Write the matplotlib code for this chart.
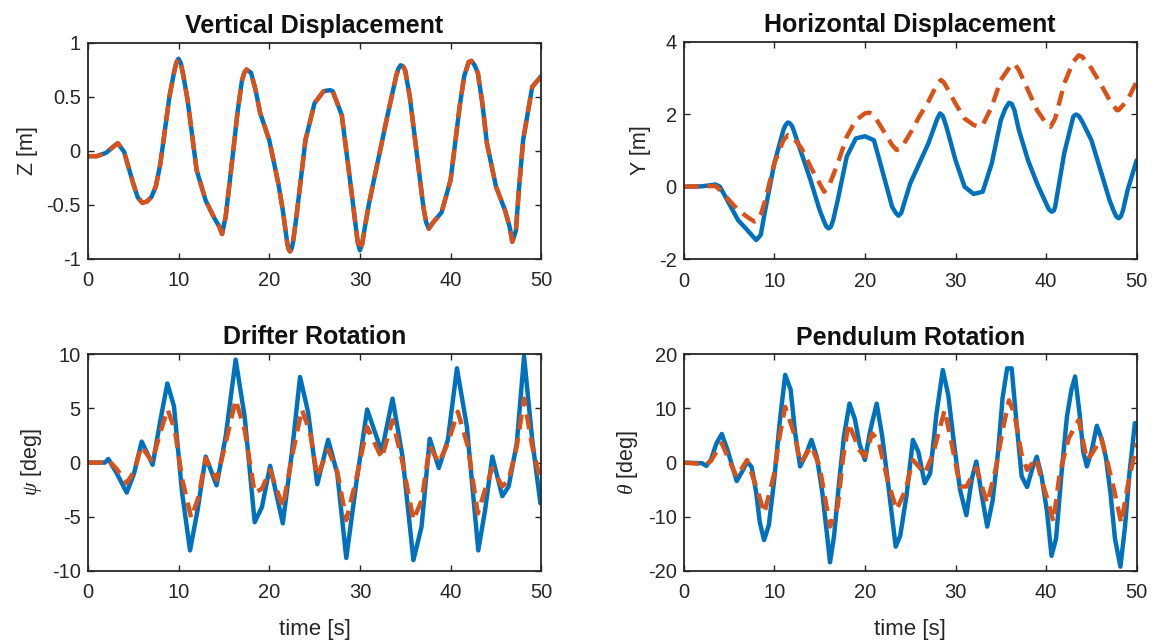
import matplotlib
matplotlib.use("Agg")
import matplotlib.pyplot as plt

plt.rcParams['font.family'] = ['Liberation Sans', 'DejaVu Sans']
plt.rcParams['axes.unicode_minus'] = False
plt.rcParams['mathtext.fontset'] = 'custom'
plt.rcParams['mathtext.it'] = 'Liberation Serif:italic'

# ---------------- data ----------------
t_z = [0, 1, 2, 3, 3.3, 4, 5, 5.5, 6, 6.5, 7, 7.5, 8, 9, 9.5, 9.75, 10, 10.25, 10.5, 11,
       12, 13, 14, 14.5, 14.8, 15.2, 16, 16.5, 17, 17.25, 17.5, 18, 18.5, 19, 20, 21,
       21.5, 22, 22.15, 22.3, 22.45, 22.6, 23, 24, 25, 26, 26.7, 27, 28, 29, 29.5,
       29.75, 30, 30.25, 30.5, 31, 32, 33, 34, 34.25, 34.5, 34.75, 35, 35.5, 36, 37,
       37.3, 37.6, 38, 39, 40, 41, 41.5, 42, 42.3, 42.65, 43, 43.5, 44, 45, 46, 46.5,
       46.8, 47.2, 47.5, 48, 49, 50]
z_meas = [-0.05, -0.05, -0.02, 0.05, 0.07, -0.01, -0.30, -0.43, -0.48, -0.47, -0.43,
          -0.33, -0.12, 0.50, 0.72, 0.81, 0.85, 0.81, 0.71, 0.47, -0.18, -0.46, -0.63,
          -0.70, -0.77, -0.61, -0.03, 0.35, 0.65, 0.72, 0.75, 0.72, 0.56, 0.35, 0.10,
          -0.30, -0.55, -0.86, -0.91, -0.93, -0.91, -0.86, -0.61, 0.10, 0.44, 0.55,
          0.56, 0.55, 0.33, -0.33, -0.67, -0.84, -0.92, -0.86, -0.73, -0.49, -0.09,
          0.31, 0.69, 0.76, 0.79, 0.78, 0.74, 0.50, 0.16, -0.52, -0.66, -0.72, -0.67,
          -0.57, -0.27, 0.41, 0.69, 0.82, 0.83, 0.79, 0.72, 0.44, 0.07, -0.33, -0.55,
          -0.70, -0.84, -0.74, -0.39, 0.10, 0.59, 0.69]
z_model = [-0.05, -0.05, -0.02, 0.05, 0.07, -0.01, -0.30, -0.43, -0.48, -0.47, -0.43,
           -0.33, -0.12, 0.50, 0.72, 0.81, 0.85, 0.81, 0.71, 0.47, -0.18, -0.46, -0.63,
           -0.70, -0.77, -0.61, -0.03, 0.35, 0.65, 0.72, 0.75, 0.72, 0.56, 0.35, 0.10,
           -0.30, -0.55, -0.86, -0.91, -0.93, -0.91, -0.86, -0.61, 0.10, 0.44, 0.55,
           0.56, 0.55, 0.33, -0.33, -0.67, -0.84, -0.92, -0.86, -0.73, -0.49, -0.09,
           0.31, 0.69, 0.76, 0.79, 0.78, 0.74, 0.50, 0.16, -0.52, -0.66, -0.72, -0.67,
           -0.57, -0.27, 0.41, 0.69, 0.82, 0.83, 0.79, 0.72, 0.44, 0.07, -0.33, -0.55,
           -0.70, -0.84, -0.74, -0.39, 0.10, 0.59, 0.69]

t_y_meas = [0, 2, 3.5, 4, 5, 6, 7, 7.5, 8, 8.5, 9, 10, 11, 11.25, 11.5, 11.75, 12, 13, 14,
            15, 15.5, 15.75, 16, 16.25, 16.5, 17, 18, 19, 20, 21, 22, 23, 23.4, 23.7, 24,
            25, 26, 27, 28, 28.3, 28.6, 29, 30, 31, 32, 33, 34, 35, 35.5, 35.9, 36.2,
            36.5, 37, 38, 39, 40, 40.3, 40.6, 40.85, 41, 42, 43, 43.3, 43.6, 44, 45, 46,
            47, 47.5, 47.75, 48, 48.25, 48.5, 49, 50]
y_meas = [0.0, 0.01, 0.06, 0.0, -0.46, -0.92, -1.19, -1.33, -1.47, -1.33, -0.64, 0.64,
          1.56, 1.70, 1.77, 1.74, 1.65, 0.92, 0.18, -0.64, -0.96, -1.10, -1.15, -1.10,
          -0.92, -0.37, 0.83, 1.33, 1.39, 1.28, 0.37, -0.55, -0.72, -0.80, -0.73, 0.09,
          0.64, 1.19, 1.88, 2.02, 1.95, 1.65, 0.73, 0.0, -0.20, -0.14, 0.64, 1.83, 2.15,
          2.31, 2.28, 2.11, 1.56, 0.73, 0.09, -0.46, -0.62, -0.69, -0.66, -0.55, 0.92,
          1.93, 1.99, 1.95, 1.79, 1.28, 0.46, -0.37, -0.69, -0.82, -0.87, -0.82, -0.64,
          -0.09, 0.73]
t_y_model = [0, 3.5, 4, 5, 6, 7, 7.8, 8.2, 8.5, 9, 10, 11, 11.5, 12, 13, 14, 15, 15.5, 16,
             17, 18, 19, 20, 20.5, 21, 22, 23, 23.5, 24, 25, 26, 27, 28, 28.4, 28.7, 29,
             30, 31, 32, 32.6, 33, 34, 35, 36, 36.5, 37, 38, 39, 40, 40.5, 41, 42, 43,
             43.6, 44, 45, 46, 47, 47.8, 48, 49, 50]
y_model = [0.0, 0.02, -0.09, -0.37, -0.64, -0.83, -0.96, -0.92, -0.78, -0.37, 0.64, 1.28,
           1.42, 1.38, 1.06, 0.55, 0.09, -0.14, 0.0, 0.64, 1.38, 1.83, 2.02, 2.04, 1.97,
           1.56, 1.15, 1.01, 1.06, 1.47, 1.93, 2.34, 2.84, 2.94, 2.88, 2.75, 2.29, 1.88,
           1.70, 1.65, 1.70, 2.20, 2.94, 3.30, 3.39, 3.21, 2.66, 2.11, 1.74, 1.65, 1.88,
           2.84, 3.44, 3.62, 3.58, 3.26, 2.84, 2.39, 2.11, 2.11, 2.39, 2.90]

t_psi_meas = [0, 1.9, 2.26, 3.2, 4.29, 5.1, 5.94, 7.15, 8.0, 8.77, 9.5, 10.4, 11.27, 12.1,
              13.0, 14.2, 15.2, 16.3, 17.3, 18.4, 19.2, 20.1, 21.5, 22.5, 23.4, 24.3,
              25.3, 26.5, 27.5, 28.5, 29.6, 30.8, 32.4, 33.6, 34.7, 35.9, 36.8, 37.7,
              38.7, 39.7, 40.7, 41.8, 43.05, 43.8, 44.6, 45.7, 46.4, 47.3, 48.1, 49.0,
              49.9, 50]
psi_meas = [0, 0, 0.34, -1.0, -2.77, -1.0, 1.94, -0.2, 3.9, 7.3, 5.2, -2.8, -8.1, -4.4,
            0.55, -2.1, 2.4, 9.5, 4.2, -5.5, -4.1, -0.3, -5.6, 0.9, 7.9, 4.6, -2.0, 2.1,
            -1.0, -8.8, -1.9, 4.9, 1.0, 5.9, 0.55, -9.0, -5.9, 2.2, -0.5, 2.1, 8.7, 3.3,
            -8.1, -4.4, 0.55, -3.1, -2.2, 1.8, 9.8, 2.1, -3.75, -3.0]
t_psi_model = [0, 2.0, 2.3, 3.2, 4.3, 5.1, 5.9, 7.1, 8.0, 8.8, 9.6, 10.4, 11.4, 12.2, 13.0,
               14.2, 15.2, 16.3, 17.3, 18.4, 19.2, 20.1, 21.5, 22.5, 23.6, 24.5, 25.3,
               26.5, 27.5, 28.5, 29.6, 30.8, 32.4, 33.6, 34.7, 35.9, 36.8, 37.7, 38.7,
               39.7, 40.8, 41.9, 43.0, 43.8, 44.6, 45.7, 46.4, 47.3, 48.1, 49.0, 50]
psi_model = [0, 0, 0.2, -0.6, -1.9, -0.8, 1.5, 0.1, 2.8, 4.9, 3.0, -1.5, -5.1, -3.2, 0.4,
             -1.6, 1.8, 5.8, 3.0, -2.8, -2.4, -0.7, -4.1, 0.5, 4.9, 2.8, -1.3, 1.2, -0.8,
             -5.3, -1.5, 3.3, 0.4, 3.9, 0.0, -5.3, -3.5, 1.5, 0.0, 1.8, 4.7, 1.5, -4.7,
             -2.5, -0.5, -2.2, -1.6, 1.5, 5.9, 1.5, -1.9]

t_th_meas = [0, 2, 2.5, 3, 3.6, 4.2, 4.8, 5.85, 6.5, 7.0, 7.5, 8.0, 8.4, 8.87, 9.4, 10,
             10.6, 11.2, 11.8, 12.3, 12.85, 13.5, 14.1, 14.7, 15.3, 15.8, 16.15, 16.6,
             17.1, 17.7, 18.3, 18.9, 19.4, 20.0, 20.6, 21.3, 21.9, 22.5, 23.0, 23.4,
             23.9, 24.6, 25.3, 25.9, 26.6, 27.2, 27.9, 28.6, 29.2, 29.8, 30.5, 31.2,
             31.8, 32.3, 32.9, 33.5, 34.1, 34.7, 35.2, 35.7, 36.2, 36.7, 37.3, 37.9,
             38.5, 38.97, 39.5, 40.1, 40.6, 41.1, 41.7, 42.3, 42.8, 43.2, 43.7, 44.1,
             44.5, 45.0, 45.6, 46.1, 46.6, 47.1, 47.6, 48.2, 48.7, 49.2, 49.8, 50]
th_meas = [0, -0.1, -0.6, 0.5, 3.5, 5.3, 2.5, -3.4, -1.5, 0.2, -0.8, -5.5, -11.0, -14.3,
           -11.5, -3.0, 7.5, 16.2, 13.5, 5.5, -0.7, 1.5, 4.2, 1.0, -5.5, -13.0, -18.4,
           -13.5, -4.5, 5.0, 10.9, 8.0, 3.5, 0.5, 6.0, 10.9, 5.0, -3.0, -10.0, -15.5,
           -13.5, -6.0, 4.2, 2.0, -3.8, -2.0, 9.0, 17.1, 12.5, 4.0, -5.0, -9.7, -3.0,
           0.2, -6.0, -11.8, -7.0, 2.0, 12.0, 17.4, 17.4, 8.0, -2.5, -4.5, -1.0, 1.1,
           -2.5, -9.0, -17.2, -14.0, -2.0, 8.5, 13.5, 15.9, 9.0, 2.0, -0.7, 2.0, 6.8,
           4.5, 1.0, -5.5, -14.0, -19.2, -12.0, -2.0, 7.3, 6.5]
t_th_model = [0, 2.5, 3, 4.2, 5, 5.85, 7.0, 8.0, 8.9, 10, 10.6, 11.2, 12.3, 12.85, 14.1,
              15, 15.6, 16.15, 17, 17.6, 18.2, 19.4, 20.0, 20.8, 21.5, 22.5, 23.5, 24.5,
              25.3, 26.6, 27.5, 28.2, 28.8, 29.5, 30.5, 31.2, 32.3, 33.5, 34.5, 35.2,
              35.9, 36.5, 37.3, 37.9, 38.9, 39.5, 40.2, 40.8, 41.5, 42.5, 43.6, 44.5,
              45.0, 46.1, 46.8, 47.5, 48.3, 49, 50]
th_model = [0, -0.3, 0.3, 3.6, 0.5, -2.6, 0.5, -4.4, -9.3, -2.0, 5.0, 10.3, 4.8, -0.1,
            3.0, -0.7, -6.5, -11.8, -8.1, 1.0, 7.3, 2.3, 1.1, 5.4, 4.0, -3.2, -8.7, -5.0,
            0.5, -2.0, 1.5, 6.0, 9.7, 4.2, -4.4, -4.4, -1.0, -7.5, -0.7, 6.0, 11.5, 9.0,
            1.5, -1.35, 0.8, -3.2, -7.0, -10.9, -2.0, 4.5, 7.9, 0.5, 1.5, 4.5, -0.1, -5.0,
            -11.2, -4.4, 3.6]

titles = ["Vertical Displacement", "Horizontal Displacement", "Drifter Rotation", "Pendulum Rotation"]
ylabels = ["Z [m]", "Y [m]", r"$\psi$ [deg]", r"$\theta$ [deg]"]
x_ticks = [0, 10, 20, 30, 40, 50]
y_ticks = [[-1, -0.5, 0, 0.5, 1], [-2, 0, 2, 4], [-10, -5, 0, 5, 10], [-20, -10, 0, 10, 20]]
y_ticklabels = [["-1", "-0.5", "0", "0.5", "1"], ["-2", "0", "2", "4"],
                ["-10", "-5", "0", "5", "10"], ["-20", "-10", "0", "10", "20"]]
xlabel = "time [s]"

series = [((t_z, z_meas), (t_z, z_model)),
          ((t_y_meas, y_meas), (t_y_model, y_model)),
          ((t_psi_meas, psi_meas), (t_psi_model, psi_model)),
          ((t_th_meas, th_meas), (t_th_model, th_model))]

# ---------------- figure ----------------
W, H = 1153, 642
fig = plt.figure(figsize=(W / 100, H / 100), dpi=100)

boxes = [(87.8, 42.5, 541.3, 259.0), (683.7, 41.5, 1136.7, 259.3),
         (87.8, 354.2, 541.3, 571.0), (683.7, 354.3, 1136.7, 571.0)]

BLUE = "#0072BD"
ORANGE = "#D95319"
AX = "#262626"

for i, (x0, y0, x1, y1) in enumerate(boxes):
    ax = fig.add_axes([x0 / W, 1 - y1 / H, (x1 - x0) / W, (y1 - y0) / H])
    (tm, vm), (to, vo) = series[i]
    ax.plot(tm, vm, color=BLUE, lw=3.2, solid_joinstyle='round', solid_capstyle='round')
    ax.plot(to, vo, color=ORANGE, lw=3.2, dashes=(3.4, 1.9), dash_joinstyle='round')
    ax.set_xlim(0, 50)
    ax.set_ylim(y_ticks[i][0], y_ticks[i][-1])
    ax.set_xticks(x_ticks)
    ax.set_xticklabels([str(v) for v in x_ticks])
    ax.set_yticks(y_ticks[i])
    ax.set_yticklabels(y_ticklabels[i])
    ax.tick_params(direction='in', top=True, right=True, length=4.5, width=1.0,
                   labelsize=14.5, colors=AX)
    ax.tick_params(axis='y', pad=5)
    ax.tick_params(axis='x', pad=9)
    for s in ax.spines.values():
        s.set_linewidth(1.3)
        s.set_color(AX)
    ax.set_title(titles[i], fontsize=18, fontweight='bold', color='#111111', pad=7)
    ax.set_ylabel(ylabels[i], fontsize=15.5, color=AX, labelpad=6)
    if i >= 2:
        ax.set_xlabel(xlabel, fontsize=16, color=AX, labelpad=12)

fig.savefig("out.png", dpi=100)
